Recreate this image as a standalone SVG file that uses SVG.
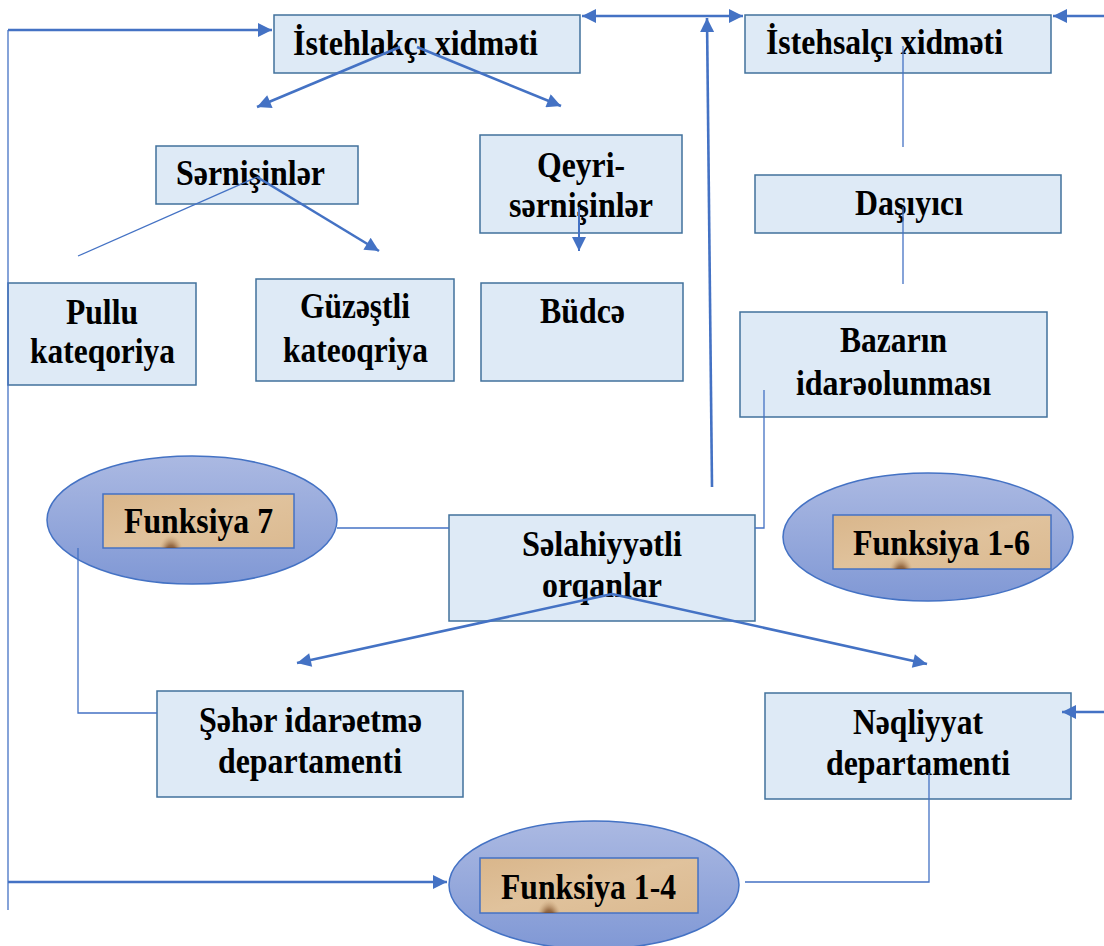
<svg xmlns="http://www.w3.org/2000/svg" width="1104" height="946" viewBox="0 0 1104 946">
<style>
.box{fill:#DEEAF6;stroke:#41719C;stroke-width:1.5}
.t{font-family:"Liberation Serif","Times New Roman",serif;font-weight:bold;font-size:36px;fill:#000}
.ell{fill:url(#eg);stroke:#4472C4;stroke-width:1.5}
.tan{fill:url(#tg);stroke:#4472C4;stroke-width:1.5}
.thick{fill:none;stroke:#4472C4;stroke-width:2.6}
.thin{fill:none;stroke:#4472C4;stroke-width:1.3}
</style>
<defs>
<linearGradient id="eg" x1="0" y1="0" x2="0" y2="1">
<stop offset="0" stop-color="#ABB9E2"/>
<stop offset="1" stop-color="#8098D5"/>
</linearGradient>
<linearGradient id="tg" x1="0" y1="0" x2="1" y2="1">
<stop offset="0" stop-color="#D9B68B"/>
<stop offset="0.5" stop-color="#E0C29C"/>
<stop offset="1" stop-color="#DBBA91"/>
</linearGradient>
<radialGradient id="blob" cx="0.5" cy="0.6" r="0.5">
<stop offset="0" stop-color="#5E3318" stop-opacity="1"/>
<stop offset="0.5" stop-color="#7E4E28" stop-opacity="0.75"/>
<stop offset="1" stop-color="#C9A57A" stop-opacity="0"/>
</radialGradient>
<clipPath id="c7"><rect x="103" y="494" width="191" height="54"/></clipPath>
<clipPath id="c16"><rect x="833" y="515" width="218" height="54"/></clipPath>
<clipPath id="c14"><rect x="480" y="858" width="218" height="55"/></clipPath>
<marker id="ah" viewBox="0 0 10 10" refX="10" refY="5" markerUnits="userSpaceOnUse" markerWidth="16" markerHeight="14" orient="auto-start-reverse">
<path d="M0,0 L10,5 L0,10 z" fill="#4472C4"/>
</marker>
</defs>

<g id="istehlakci">
<rect class="box" x="274" y="15" width="306" height="58"/>
<text class="t" x="293" y="55" textLength="245" lengthAdjust="spacingAndGlyphs">İstehlakçı xidməti</text>
</g>
<g id="istehsalci">
<rect class="box" x="745" y="15" width="306" height="58"/>
<text class="t" x="766" y="54" textLength="237" lengthAdjust="spacingAndGlyphs">İstehsalçı xidməti</text>
</g>
<g id="sernisinler">
<rect class="box" x="156" y="146" width="202" height="58"/>
<text class="t" x="176" y="185" textLength="149" lengthAdjust="spacingAndGlyphs">Sərnişinlər</text>
</g>
<g id="qeyri">
<rect class="box" x="480" y="135" width="202" height="98"/>
<text class="t" x="537" y="177" textLength="88" lengthAdjust="spacingAndGlyphs">Qeyri-</text>
<text class="t" x="509" y="217" textLength="144" lengthAdjust="spacingAndGlyphs">sərnişinlər</text>
</g>
<g id="dasiyici">
<rect class="box" x="755" y="175" width="306" height="58"/>
<text class="t" x="855" y="215" textLength="108" lengthAdjust="spacingAndGlyphs">Daşıyıcı</text>
</g>
<g id="pullu">
<rect class="box" x="8" y="283" width="188" height="102"/>
<text class="t" x="66" y="324" textLength="72" lengthAdjust="spacingAndGlyphs">Pullu</text>
<text class="t" x="30" y="363" textLength="145" lengthAdjust="spacingAndGlyphs">kateqoriya</text>
</g>
<g id="guzestli">
<rect class="box" x="256" y="279" width="198" height="102"/>
<text class="t" x="300" y="318" textLength="110" lengthAdjust="spacingAndGlyphs">Güzəştli</text>
<text class="t" x="283" y="362" textLength="145" lengthAdjust="spacingAndGlyphs">kateoqriya</text>
</g>
<g id="budce">
<rect class="box" x="481" y="283" width="202" height="98"/>
<text class="t" x="540" y="323" textLength="85" lengthAdjust="spacingAndGlyphs">Büdcə</text>
</g>
<g id="bazarin">
<rect class="box" x="740" y="312" width="307" height="105"/>
<text class="t" x="840" y="352" textLength="107" lengthAdjust="spacingAndGlyphs">Bazarın</text>
<text class="t" x="796" y="395" textLength="195" lengthAdjust="spacingAndGlyphs">idarəolunması</text>
</g>
<g id="selahiyyetli">
<rect class="box" x="449" y="515" width="306" height="106"/>
<text class="t" x="522" y="556" textLength="160" lengthAdjust="spacingAndGlyphs">Səlahiyyətli</text>
<text class="t" x="542" y="597" textLength="120" lengthAdjust="spacingAndGlyphs">orqanlar</text>
</g>
<g id="seher">
<rect class="box" x="157" y="691" width="306" height="106"/>
<text class="t" x="199" y="732" textLength="223" lengthAdjust="spacingAndGlyphs">Şəhər idarəetmə</text>
<text class="t" x="218" y="773" textLength="184" lengthAdjust="spacingAndGlyphs">departamenti</text>
</g>
<g id="neqliyyat">
<rect class="box" x="765" y="693" width="306" height="106"/>
<text class="t" x="853" y="734" textLength="130" lengthAdjust="spacingAndGlyphs">Nəqliyyat</text>
<text class="t" x="826" y="775" textLength="184" lengthAdjust="spacingAndGlyphs">departamenti</text>
</g>

<g id="funksiya7">
<ellipse class="ell" cx="192" cy="520" rx="145" ry="64"/>
<rect class="tan" x="103" y="494" width="191" height="54"/>
<ellipse cx="171" cy="552" rx="13" ry="22" fill="url(#blob)" clip-path="url(#c7)"/>
<text class="t" x="124" y="533" textLength="149" lengthAdjust="spacingAndGlyphs">Funksiya 7</text>
</g>
<g id="funksiya16">
<ellipse class="ell" cx="928" cy="537" rx="145" ry="64"/>
<rect class="tan" x="833" y="515" width="218" height="54"/>
<ellipse cx="901" cy="573" rx="13" ry="22" fill="url(#blob)" clip-path="url(#c16)"/>
<text class="t" x="853" y="555" textLength="177" lengthAdjust="spacingAndGlyphs">Funksiya 1-6</text>
</g>
<g id="funksiya14">
<ellipse class="ell" cx="594" cy="885" rx="145" ry="64"/>
<rect class="tan" x="480" y="858" width="218" height="55"/>
<ellipse cx="549" cy="917" rx="13" ry="22" fill="url(#blob)" clip-path="url(#c14)"/>
<text class="t" x="501" y="899" textLength="175" lengthAdjust="spacingAndGlyphs">Funksiya 1-4</text>
</g>

<g id="connectors">
<path class="thin" d="M8,30 V910"/>
<path class="thick" d="M8,30 H272" marker-end="url(#ah)"/>
<path class="thick" d="M8,882 H447" marker-end="url(#ah)"/>
<path class="thick" d="M582,16 H743" marker-start="url(#ah)" marker-end="url(#ah)"/>
<path class="thick" d="M712,487 L707,18" marker-end="url(#ah)"/>
<path class="thick" d="M1104,16 H1053" marker-end="url(#ah)"/>
<path class="thick" d="M400,47 L257,107" marker-end="url(#ah)"/>
<path class="thick" d="M417,47 L561,106" marker-end="url(#ah)"/>
<path class="thin" d="M78,256 L257,177"/>
<path class="thick" d="M257,177 L379,251" marker-end="url(#ah)"/>
<path class="thick" d="M579,207 V251" marker-end="url(#ah)" style="stroke-width:2"/>
<path class="thin" d="M903,46 V147"/>
<path class="thin" d="M903,207 V284"/>
<path class="thin" d="M764,390 V528 H755"/>
<path class="thin" d="M337,528 H449"/>
<path class="thin" d="M78,548 V713 H157"/>
<path class="thick" d="M612,594 L297,663" marker-end="url(#ah)"/>
<path class="thick" d="M612,594 L927,664" marker-end="url(#ah)"/>
<path class="thick" d="M1104,712 H1062" marker-end="url(#ah)"/>
<path class="thin" d="M929,773 V882 H745"/>
</g>
</svg>
